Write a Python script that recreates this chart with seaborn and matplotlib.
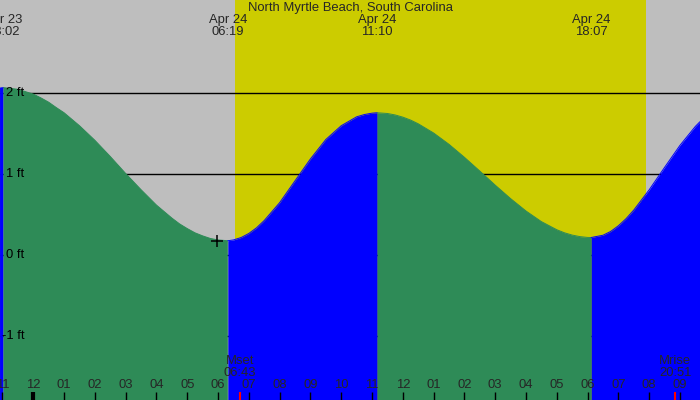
import matplotlib
matplotlib.use("Agg")
import matplotlib.pyplot as plt
import matplotlib.transforms as mtransforms
import numpy as np
import pandas as pd
import seaborn as sns

# ---------------- data ----------------
title = "North Myrtle Beach, South Carolina"

# hours relative to Apr 24 00:00, tide height in ft
hours = [-1.08, -0.967, -0.5, 0.0, 0.25, 0.5, 0.75, 1.0, 1.5, 2.0, 2.5, 3.0,
         3.5, 4.0, 4.5, 4.75, 5.0, 5.25, 5.5, 5.75, 6.0, 6.317, 6.5, 6.75, 7.0,
         7.25, 7.5, 8.0, 8.5, 9.0, 9.5, 10.0, 10.5, 10.75, 11.0, 11.167, 11.5,
         11.75, 12.0, 12.25, 12.5, 13.0, 13.5, 14.0, 14.5, 15.0, 15.5, 16.0,
         16.5, 17.0, 17.25, 17.5, 17.75, 18.0, 18.117, 18.5, 18.75, 19.0,
         19.25, 19.5, 20.0, 20.5, 21.0, 21.5, 21.65]
height_ft = [2.065, 2.07, 2.05, 1.99, 1.943, 1.89, 1.823, 1.76, 1.60, 1.42,
             1.22, 1.01, 0.81, 0.62, 0.46, 0.388, 0.33, 0.278, 0.24, 0.208,
             0.19, 0.18, 0.19, 0.22, 0.27, 0.34, 0.43, 0.65, 0.92, 1.19, 1.43,
             1.60, 1.71, 1.738, 1.755, 1.76, 1.751, 1.733, 1.706, 1.670, 1.624,
             1.51, 1.37, 1.21, 1.04, 0.866, 0.70, 0.547, 0.416, 0.316, 0.278,
             0.25, 0.231, 0.221, 0.22, 0.248, 0.295, 0.365, 0.453, 0.559, 0.809,
             1.086, 1.358, 1.592, 1.65]

extreme_hours = [-0.967, 6.317, 11.167, 18.117]
extreme_dates = ["Apr 23", "Apr 24", "Apr 24", "Apr 24"]
extreme_times = ["23:02", "06:19", "11:10", "18:07"]

sunrise_hour = 6.55
sunset_hour = 19.9

moon_hours = [6.717, 20.85]
moon_names = ["Mset", "Mrise"]
moon_times = ["06:43", "20:51"]

ft_levels = [2, 1, 0, -1]
ft_labels = ["2 ft", "1 ft", "0 ft", "-1 ft"]

tick_hours = list(range(-1, 22))
tick_labels = ["11", "12", "01", "02", "03", "04", "05", "06", "07", "08", "09",
               "10", "11", "12", "01", "02", "03", "04", "05", "06", "07", "08", "09"]
midnight_hour = 0

now_hour = 5.975
now_ft = 0.18

# ---------------- style ----------------
sns.set_style("white")
plt.rcParams["font.family"] = ["Liberation Sans", "DejaVu Sans"]
FS = 9.4

SKY = "#bebebe"
DAY = "#cccc00"
FALL = "#2e8b57"
RISE = "#0000ff"

fig = plt.figure(figsize=(7, 4), dpi=100)
ax = fig.add_axes([0, 0, 1, 1])
ax.set_facecolor(SKY)
ax.set_xlim(-1.081, 21.65)
ax.set_ylim(-1.786, 3.152)
for s in ax.spines.values():
    s.set_visible(False)
ax.set_xticks([])
ax.set_yticks([])

# daylight
ax.axvspan(sunrise_hour, sunset_hour, color=DAY, lw=0, zorder=1)

# foot grid lines (behind the water)
for lv in ft_levels:
    ax.axhline(lv, color="black", lw=1, zorder=2)

# split curve into rising / falling segments
t = np.array(hours)
h = np.array(height_ft)
d = np.diff(h)
rows = []
seg = 0
start = 0
colors = {}
for i in range(1, len(d) + 1):
    if i == len(d) or np.sign(d[i]) != np.sign(d[start]):
        c = FALL if d[start] < 0 else RISE
        colors[seg] = c
        ts = t[start:i + 1]
        hs = h[start:i + 1]
        ax.fill_between(ts, -3, hs, color=c, lw=0, zorder=3)
        for a, b in zip(ts, hs):
            rows.append({"hour": a, "ft": b, "seg": seg})
        seg += 1
        start = i
df = pd.DataFrame(rows)
sns.lineplot(data=df, x="hour", y="ft", hue="seg", palette=colors, legend=False,
             estimator=None, sort=False, lw=0.7, ax=ax, zorder=3)
ax.set_xlabel("")
ax.set_ylabel("")

# current-time cross
ax.plot([now_hour], [now_ft], marker="+", ms=9, mew=1.1, color="black", zorder=5)

xa = mtransforms.blended_transform_factory(ax.transData, ax.transAxes)
ya = mtransforms.blended_transform_factory(ax.transAxes, ax.transData)

# foot labels
for lv, lab in zip(ft_levels, ft_labels):
    ax.text(24 / 700, lv, lab, transform=ya, ha="right", va="center",
            fontsize=FS, color="black", zorder=6)

# title and extreme labels
ax.text(0.5, 1 - 8 / 400, title, transform=ax.transAxes, ha="center",
        va="center", fontsize=FS, zorder=6)
for eh, ed, et in zip(extreme_hours, extreme_dates, extreme_times):
    ax.text(eh, 1 - 20 / 400, ed, transform=xa, ha="center", va="center",
            fontsize=FS, zorder=6)
    ax.text(eh, 1 - 32 / 400, et, transform=xa, ha="center", va="center",
            fontsize=FS, zorder=6)

# hour ticks
for th, tl in zip(tick_hours, tick_labels):
    lw = 3 if th == midnight_hour else 1
    ax.vlines(th, 0, 8 / 400, transform=xa, color="black", lw=lw, zorder=6)
    ax.text(th, 1 - 385.5 / 400, tl, transform=xa, ha="center", va="center",
            fontsize=FS, zorder=6)

# moon events
for mh, mn, mt in zip(moon_hours, moon_names, moon_times):
    ax.vlines(mh, 0, 8 / 400, transform=xa, color="red", lw=1.5, zorder=6)
    ax.text(mh, 1 - 361 / 400, mn, transform=xa, ha="center", va="center",
            fontsize=FS, zorder=6)
    ax.text(mh, 1 - 373 / 400, mt, transform=xa, ha="center", va="center",
            fontsize=FS, zorder=6)

fig.savefig("out.png", dpi=100)
